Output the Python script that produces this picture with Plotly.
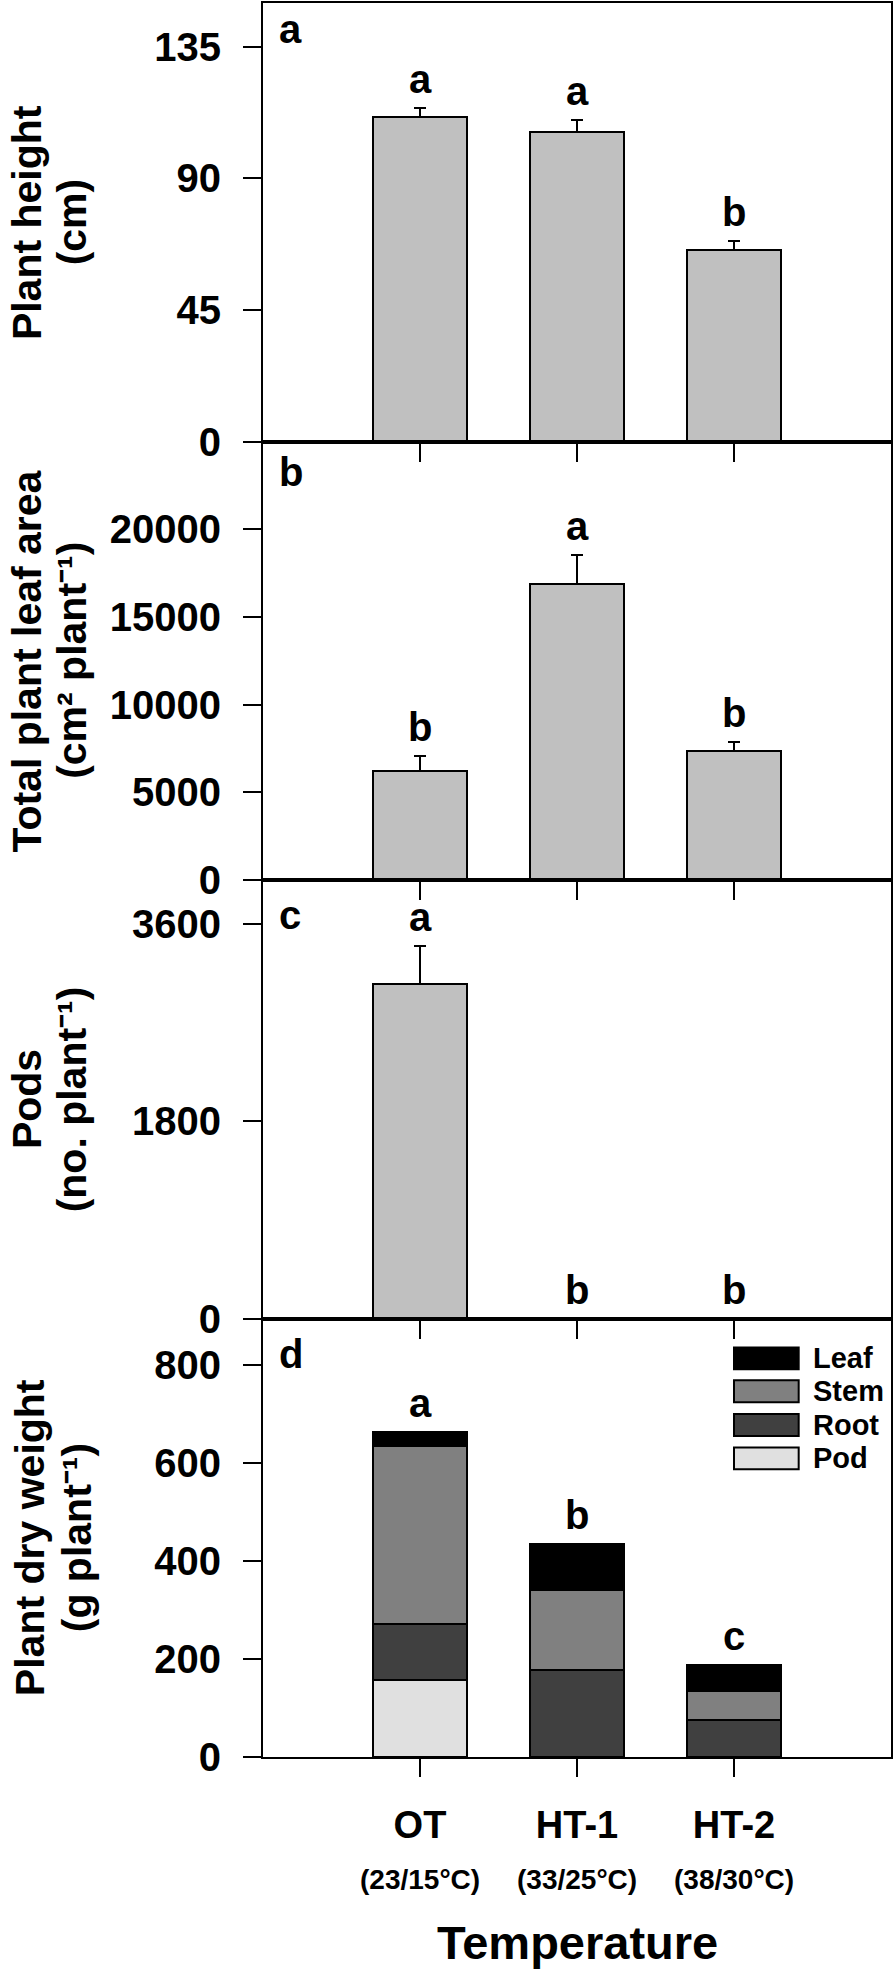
import plotly.graph_objects as go
from plotly.subplots import make_subplots

# ---------------- data ----------------
categories = ["OT", "HT-1", "HT-2"]
temp_labels = ["(23/15°C)", "(33/25°C)", "(38/30°C)"]

height_vals = [111, 106, 65.5]
height_err = [3, 4, 3]
height_sig = ["a", "a", "b"]

leaf_area_vals = [6200, 16850, 7380]
leaf_area_err = [880, 1700, 500]
leaf_area_sig = ["b", "a", "b"]

pods_vals = [3050, 0, 0]
pods_err = [345, 0, 0]
pods_sig = ["a", "b", "b"]

dw_pod = [158, 0, 0]
dw_root = [113, 178, 75]
dw_stem = [364, 163, 60]
dw_leaf = [28, 93, 53]
dw_sig = ["a", "b", "c"]

part_names = ["Pod", "Root", "Stem", "Leaf"]
part_colors = ["#e0e0e0", "#404040", "#808080", "#000000"]

# ---------------- style ----------------
FONT = "Liberation Sans, Arial, Helvetica, sans-serif"
BAR_FILL = "#c0c0c0"
TICK_SIZE = 40
TITLE_SIZE = 41
SIG_SIZE = 40


def bold(size, family=FONT):
    return dict(size=size, family=family, color="black", weight="bold")


fig = make_subplots(rows=4, cols=1, vertical_spacing=0)


def ref(ax, i):
    return ax if i == 1 else f"{ax}{i}"


simple_panels = [
    (height_vals, height_err, height_sig, [0, 150], [0, 45, 90, 135],
     ("Plant height", "(cm)"), "a"),
    (leaf_area_vals, leaf_area_err, leaf_area_sig, [0, 25000],
     [0, 5000, 10000, 15000, 20000],
     ("Total plant leaf area", "(cm² plant⁻¹)"), "b"),
    (pods_vals, pods_err, pods_sig, [0, 4000], [0, 1800, 3600],
     ("Pods", "(no. plant⁻¹)"), "c"),
]

panel_specs = []
for i, (vals, err, sig, rng, tv, title, lab) in enumerate(simple_panels, start=1):
    fig.add_trace(go.Bar(
        x=categories, y=vals, width=0.6,
        marker=dict(color=BAR_FILL, line=dict(color="black", width=2)),
        error_y=dict(type="data", array=err, arrayminus=[0] * len(err),
                     symmetric=False, color="black", thickness=2, width=6),
        showlegend=False), row=i, col=1)
    for c, v, e, s in zip(categories, vals, err, sig):
        fig.add_annotation(x=c, y=v + e, xref=ref("x", i), yref=ref("y", i),
                           text=s, showarrow=False, yanchor="bottom", yshift=5,
                           font=bold(SIG_SIZE))
    panel_specs.append((rng, tv, title, lab))

# panel d stacked
dw_parts = [dw_pod, dw_root, dw_stem, dw_leaf]
for name, col, vals in zip(part_names, part_colors, dw_parts):
    fig.add_trace(go.Bar(
        x=categories, y=vals, width=0.6, name=name,
        marker=dict(color=col, line=dict(color="black", width=2)),
        showlegend=False), row=4, col=1)
totals = [sum(p) for p in zip(*dw_parts)]
for c, t, s in zip(categories, totals, dw_sig):
    fig.add_annotation(x=c, y=t, xref="x4", yref="y4", text=s, showarrow=False,
                       yanchor="bottom", yshift=5, font=bold(SIG_SIZE))
panel_specs.append(([0, 895], [0, 200, 400, 600, 800],
                    ("Plant dry weight", "(g plant⁻¹)"), "d"))

# title line x-positions (paper) and panel-letter shifts (px)
title_x1 = [-0.376, -0.376, -0.376, -0.372]
title_x2 = [-0.304, -0.304, -0.304, -0.297]
label_shift = [-2, -6, -11, -11]

for i, (rng, tv, title, lab) in enumerate(panel_specs, start=1):
    fig.update_xaxes(row=i, col=1, type="category", categoryorder="array",
                     categoryarray=categories, range=[-1, 3],
                     showline=True, linewidth=2, linecolor="black", mirror=True,
                     ticks="outside", ticklen=18, tickwidth=2, tickcolor="black",
                     showticklabels=(i == 4), showgrid=False, zeroline=False,
                     tickfont=bold(38), ticklabelstandoff=15)
    fig.update_yaxes(row=i, col=1, range=rng, tickvals=tv, tickformat="d",
                     showline=True, linewidth=2, linecolor="black", mirror=True,
                     ticks="outside", ticklen=18, tickwidth=2, tickcolor="black",
                     showgrid=False, zeroline=False,
                     tickfont=bold(TICK_SIZE), ticklabelstandoff=14)
    yc = 1 - (i - 0.5) / 4
    for xpos, line in zip((title_x1[i - 1], title_x2[i - 1]), title):
        fig.add_annotation(x=xpos, y=yc, xref="paper", yref="paper", text=line,
                           textangle=-90, showarrow=False, xanchor="center",
                           yanchor="middle", font=bold(TITLE_SIZE))
    fig.add_annotation(x=0.022, y=1, xref=ref("x", i) + " domain",
                       yref=ref("y", i) + " domain", text=lab, showarrow=False,
                       xanchor="left", yanchor="top", yshift=label_shift[i - 1],
                       font=bold(SIG_SIZE))

# temperature sub-labels
for c, t in zip(categories, temp_labels):
    fig.add_annotation(x=c, y=-0.070, xref="x4", yref="paper", text=t, showarrow=False,
                       xanchor="center", yanchor="middle", font=bold(28))
fig.add_annotation(x=0.5, y=-0.106, xref="paper", yref="paper", text="Temperature",
                   showarrow=False, xanchor="center", yanchor="middle", font=bold(47))

# custom legend (Leaf on top)
row_y = [0.909, 0.834, 0.757, 0.681]
for k, (name, col) in enumerate(zip(part_names[::-1], part_colors[::-1])):
    yc = row_y[k]
    fig.add_shape(type="rect", xref="paper", yref="y4 domain",
                  x0=0.750, x1=0.853, y0=yc - 0.025, y1=yc + 0.025,
                  fillcolor=col, line=dict(color="black", width=2))
    fig.add_annotation(x=0.872, y=yc, xref="paper", yref="y4 domain", text=name,
                       showarrow=False, xanchor="left", yanchor="middle", font=bold(29))

fig.update_layout(width=895, height=1970,
                  margin=dict(l=263, r=4, t=1, b=213),
                  paper_bgcolor="white", plot_bgcolor="rgba(0,0,0,0)",
                  barmode="stack", showlegend=False,
                  font=dict(family=FONT, color="black", size=30))

fig.write_html("out.html", config={"displayModeBar": False},
               post_script="document.body.style.margin='0';")
